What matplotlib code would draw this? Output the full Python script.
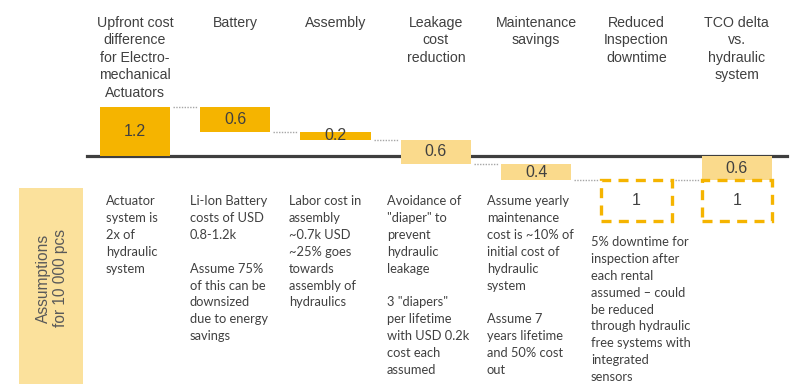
import matplotlib
matplotlib.use('Agg')
from matplotlib import pyplot as plt
from matplotlib.patches import Rectangle

# colours
c_dark = '#F5B400'
c_light = '#FADA8C'
c_box = '#FBE19C'
c_text = '#404040'
c_conn = '#A6A6A6'

categories = ['Upfront cost\ndifference\nfor Electro-\nmechanical\nActuators',
              'Battery', 'Assembly', 'Leakage\ncost\nreduction',
              'Maintenance\nsavings', 'Reduced\nInspection\ndowntime',
              'TCO delta\nvs.\nhydraulic\nsystem']
steps = [1.2, -0.6, -0.2, -0.6, -0.4, -1.0]
step_styles = ['dark', 'dark', 'dark', 'light', 'light', 'dashed']
tco_parts = [-0.6, -1.0]
tco_styles = ['light', 'dashed']

assumptions = [
    'Actuator\nsystem is\n2x of\nhydraulic\nsystem',
    'Li-Ion Battery\ncosts of USD\n0.8-1.2k\n\nAssume 75%\nof this can be\ndownsized\ndue to energy\nsavings',
    'Labor cost in\nassembly\n~0.7k USD\n~25% goes\ntowards\nassembly of\nhydraulics',
    'Avoidance of\n"diaper" to\nprevent\nhydraulic\nleakage\n\n3 "diapers"\nper lifetime\nwith USD 0.2k\ncost each\nassumed',
    'Assume yearly\nmaintenance\ncost is ~10% of\ninitial cost of\nhydraulic\nsystem\n\nAssume 7\nyears lifetime\nand 50% cost\nout',
    '5% downtime for\ninspection after\neach rental\nassumed \u2013 could\nbe reduced\nthrough hydraulic\nfree systems with\nintegrated\nsensors',
]
side_label = 'Assumptions\nfor 10 000 pcs'

#####

W, H = 810, 391
fig = plt.figure(figsize=(W/100, H/100), dpi=100)
ax = fig.add_axes([0, 0, 1, 1])
xstep = 100.3     # px per category
ystep = 40.5      # px per unit
x0, y0 = 135, 156 # pixel position of first bar centre / baseline
ax.set_xlim(-x0/xstep, (W-x0)/xstep)
ax.set_ylim(-(H-y0)/ystep, y0/ystep)
ax.axis('off')

bw = 0.7

def draw_piece(x, start, val, style):
    lo = min(start, start+val)
    h = abs(val)
    if style == 'dashed':
        ax.add_patch(Rectangle((x-bw/2, lo), bw, h, fill=False, edgecolor=c_dark,
                               linewidth=2.4, linestyle=(0, (3, 2.2)), zorder=3))
    else:
        ax.bar(x, h, bottom=lo, width=bw, color=c_dark if style == 'dark' else c_light,
               zorder=3)
    ax.text(x, lo + h/2, '{:g}'.format(h), ha='center', va='center', fontsize=11.5,
            color=c_text, family='Liberation Sans', zorder=4)

# baseline
ax.plot([-0.48, 6.5], [0, 0], color='#3F3F3F', linewidth=2.3, zorder=2)

level = 0.0
for i, (v, s) in enumerate(zip(steps, step_styles)):
    draw_piece(i, level, v, s)
    # dashed steps connect at their top edge
    if s != 'dashed':
        level += v
    ax.plot([i+bw/2+0.03, i+1-bw/2-0.03], [level, level], color=c_conn,
            linestyle=(0, (1, 1)), linewidth=1.0, zorder=2)

# TCO column
xt = len(steps)
lev = 0.0
for v, s in zip(tco_parts, tco_styles):
    draw_piece(xt, lev, v, s)
    lev += v

# headers
for i, lab in enumerate(categories):
    ax.text(i, 1 - 16/H, lab, transform=ax.get_xaxis_transform(), ha='center', va='top',
            fontsize=10.2, color=c_text, family='Liberation Sans', linespacing=1.31)

# assumptions box on the left
fig.patches.append(Rectangle((19/W, 1-384/H), 64/W, 196/H, transform=fig.transFigure,
                             facecolor=c_box, edgecolor='none'))
fig.text(52/W, 1-278/H, side_label, rotation=90, ha='center', va='center',
         fontsize=11.2, color='#595959', family='Liberation Sans', linespacing=1.15,
         multialignment='center')

# assumption text columns
col_x = [106, 190, 289, 387, 487, 591]
col_y = [195, 195, 195, 195, 195, 236]
for txt, cx, cy in zip(assumptions, col_x, col_y):
    fig.text(cx/W, 1-cy/H, txt, ha='left', va='top', fontsize=9.3, color=c_text,
             family='Lato', linespacing=1.49)

fig.savefig('out.png', dpi=100)
